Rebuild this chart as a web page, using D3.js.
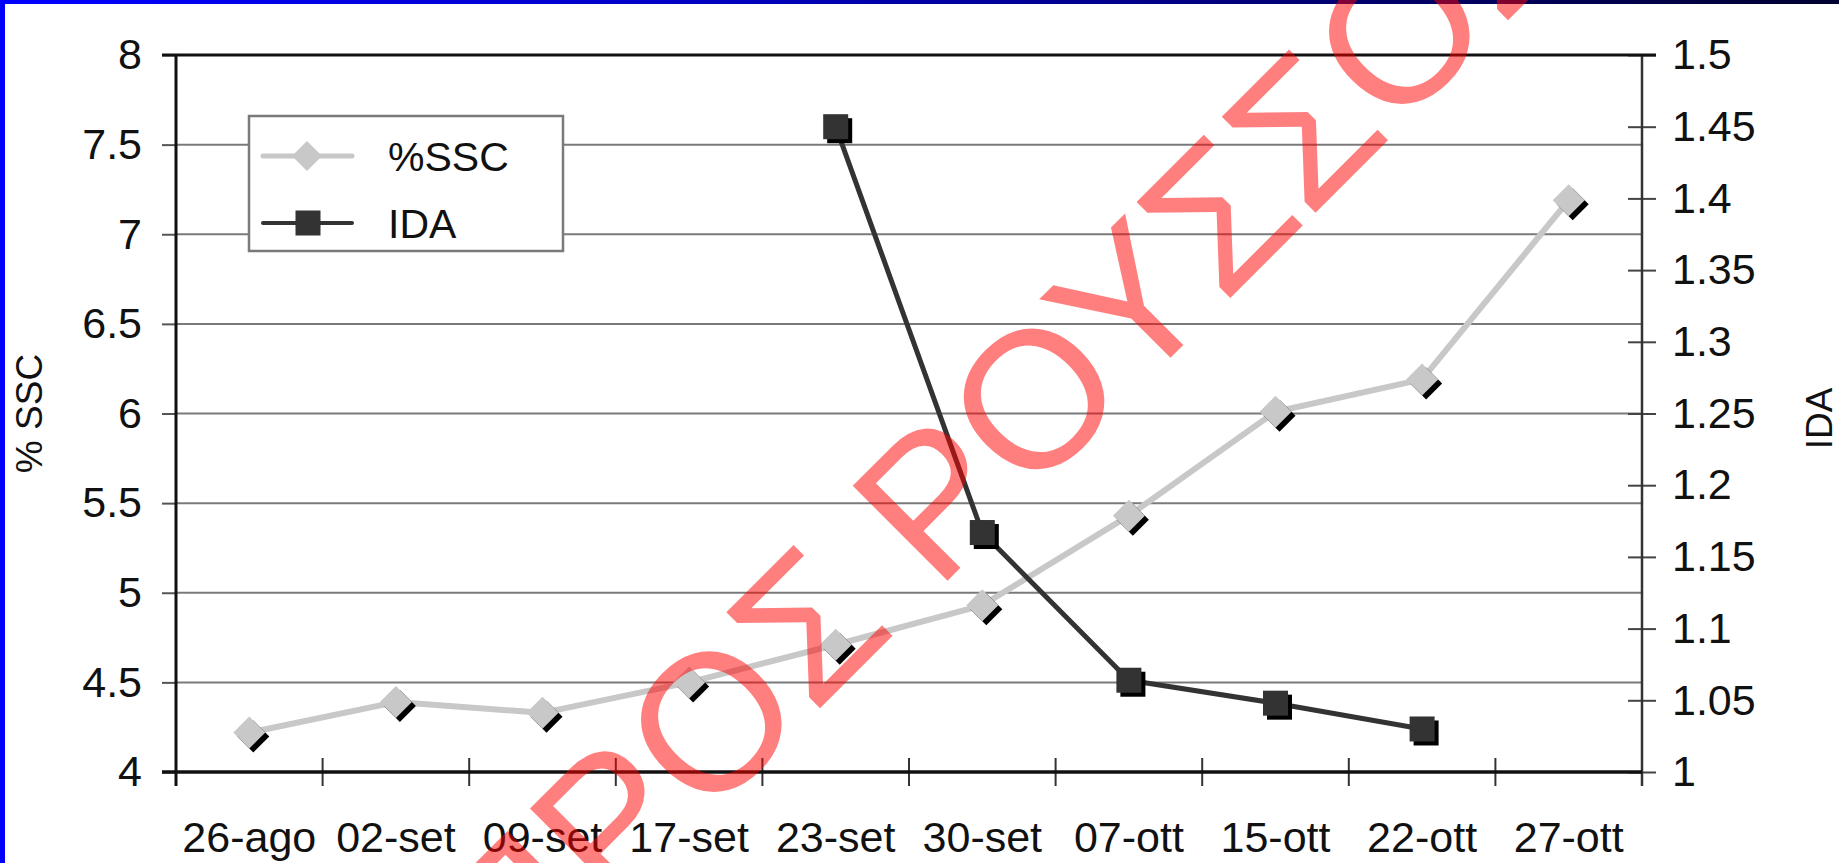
<!DOCTYPE html>
<html>
<head>
<meta charset="utf-8">
<script src="https://cdn.jsdelivr.net/npm/d3@7"></script>
<style>
  html, body { margin: 0; padding: 0; background: #ffffff; }
  svg { display: block; }
  text { font-family: "Liberation Sans", Arial, sans-serif; }
</style>
</head>
<body>
<svg id="chart" width="1839" height="863"></svg>
<script>
// ---- data ----
const categories = ["26-ago", "02-set", "09-set", "17-set", "23-set", "30-set", "07-ott", "15-ott", "22-ott", "27-ott"];
const sscValues = [4.22, 4.39, 4.33, 4.50, 4.71, 4.93, 5.43, 6.01, 6.19, 7.19];
const idaValues = [null, null, null, null, 1.45, 1.167, 1.064, 1.048, 1.030, null];
const leftTicks = [4, 4.5, 5, 5.5, 6, 6.5, 7, 7.5, 8];
const rightTicks = [1, 1.05, 1.1, 1.15, 1.2, 1.25, 1.3, 1.35, 1.4, 1.45, 1.5];
const seriesNames = ["%SSC", "IDA"];
const axisTitles = ["% SSC", "IDA"];
const watermarkText = "ΠΡΟΣ ΡΟΥΣΣΟΣ";

// ---- layout ----
const W = 1839, H = 863;
const plot = { left: 176, right: 1642, top: 55, bottom: 772 };
const FS = 43;

const svg = d3.select("#chart");
svg.append("rect").attr("width", W).attr("height", H).attr("fill", "#fff");

const x = d3.scaleBand().domain(categories).range([plot.left, plot.right]);
const yL = d3.scaleLinear().domain([4, 8]).range([plot.bottom, plot.top]);
const yR = d3.scaleLinear().domain([1, 1.5]).range([plot.bottom, plot.top]);

// gridlines
svg.append("g").selectAll("line")
  .data(leftTicks.filter(t => t > 4 && t < 8))
  .join("line")
  .attr("x1", plot.left).attr("x2", plot.right)
  .attr("y1", d => yL(d)).attr("y2", d => yL(d))
  .attr("stroke", "#7a7a7a").attr("stroke-width", 2);

// left axis
const gL = svg.append("g").attr("transform", `translate(${plot.left},0)`)
  .call(d3.axisLeft(yL).tickValues(leftTicks).tickSize(14).tickPadding(20).tickFormat(d => String(d)));
gL.select(".domain").remove();
gL.selectAll(".tick line").attr("stroke", "#555").attr("stroke-width", 2);
gL.selectAll(".tick text").attr("font-size", FS).attr("fill", "#111")
  .attr("font-family", "Liberation Sans, Arial, sans-serif");

// right axis
const gR = svg.append("g").attr("transform", `translate(${plot.right},0)`)
  .call(d3.axisRight(yR).tickValues(rightTicks).tickSize(14).tickPadding(16).tickFormat(d => String(+d.toFixed(2))));
gR.select(".domain").remove();
gR.selectAll(".tick line").attr("x1", -14).attr("stroke", "#444").attr("stroke-width", 2);
gR.selectAll(".tick text").attr("font-size", FS).attr("fill", "#111")
  .attr("font-family", "Liberation Sans, Arial, sans-serif");

// bottom axis labels
const gB = svg.append("g").attr("transform", `translate(0,${plot.bottom})`)
  .call(d3.axisBottom(x).tickSize(0).tickPadding(49));
gB.select(".domain").remove();
gB.selectAll(".tick text").attr("font-size", FS).attr("fill", "#111")
  .attr("font-family", "Liberation Sans, Arial, sans-serif");
// category boundary ticks
const bounds = categories.map(c => x(c)).concat([plot.right]);
svg.append("g").selectAll("line").data(bounds).join("line")
  .attr("x1", d => d).attr("x2", d => d)
  .attr("y1", plot.bottom - 14).attr("y2", plot.bottom + 14)
  .attr("stroke", "#333").attr("stroke-width", 2);

// axis lines / frame
svg.append("line").attr("x1", plot.right).attr("x2", plot.right).attr("y1", plot.top).attr("y2", plot.bottom + 14)
  .attr("stroke", "#333").attr("stroke-width", 2.5);
svg.append("line").attr("x1", plot.left - 14).attr("x2", plot.right + 14).attr("y1", plot.top).attr("y2", plot.top)
  .attr("stroke", "#111").attr("stroke-width", 3);
svg.append("line").attr("x1", plot.left).attr("x2", plot.left).attr("y1", plot.top).attr("y2", plot.bottom + 14)
  .attr("stroke", "#111").attr("stroke-width", 3);
svg.append("line").attr("x1", plot.left - 14).attr("x2", plot.right).attr("y1", plot.bottom).attr("y2", plot.bottom)
  .attr("stroke", "#111").attr("stroke-width", 3.5);

// axis titles
svg.append("text").attr("transform", `translate(42,${(plot.top + plot.bottom) / 2}) rotate(-90)`)
  .attr("text-anchor", "middle").attr("font-size", 37).attr("fill", "#111").text(axisTitles[0]);
svg.append("text").attr("transform", `translate(1832,${(plot.top + plot.bottom) / 2 + 5}) rotate(-90)`)
  .attr("text-anchor", "middle").attr("font-size", 37).attr("fill", "#111").text(axisTitles[1]);

// series
const cx = d => x(d) + x.bandwidth() / 2;
const sscData = categories.map((c, i) => ({ c, v: sscValues[i] }));
const idaData = categories.map((c, i) => ({ c, v: idaValues[i] })).filter(d => d.v != null);

const lineSSC = d3.line().x(d => cx(d.c)).y(d => yL(d.v));
const lineIDA = d3.line().x(d => cx(d.c)).y(d => yR(d.v));

const diamond = (r) => `M0,${-r}L${r},0L0,${r}L${-r},0Z`;
const DR = 16, SQ = 25, SH = 4;

svg.append("path").datum(sscData).attr("d", lineSSC)
  .attr("fill", "none").attr("stroke", "#c8c8c8").attr("stroke-width", 6).attr("stroke-linejoin", "round");
const gS = svg.append("g").selectAll("g").data(sscData).join("g")
  .attr("transform", d => `translate(${cx(d.c)},${yL(d.v)})`);
gS.append("path").attr("d", diamond(DR)).attr("transform", `translate(${SH},${SH})`).attr("fill", "#000");
gS.append("path").attr("d", diamond(DR)).attr("fill", "#c8c8c8");

svg.append("path").datum(idaData).attr("d", lineIDA)
  .attr("fill", "none").attr("stroke", "#333").attr("stroke-width", 5).attr("stroke-linejoin", "round");
const gI = svg.append("g").selectAll("g").data(idaData).join("g")
  .attr("transform", d => `translate(${cx(d.c)},${yR(d.v)})`);
gI.append("rect").attr("x", -SQ / 2 + SH).attr("y", -SQ / 2 + SH).attr("width", SQ).attr("height", SQ).attr("fill", "#000");
gI.append("rect").attr("x", -SQ / 2).attr("y", -SQ / 2).attr("width", SQ).attr("height", SQ).attr("fill", "#333");

// legend
const lg = svg.append("g");
lg.append("rect").attr("x", 249).attr("y", 116).attr("width", 314).attr("height", 135)
  .attr("fill", "#fff").attr("stroke", "#7a7a7a").attr("stroke-width", 2.5);
const legY = [156, 223];
lg.append("line").attr("x1", 263).attr("x2", 352).attr("y1", legY[0]).attr("y2", legY[0])
  .attr("stroke", "#c8c8c8").attr("stroke-width", 5).attr("stroke-linecap", "round");
lg.append("path").attr("d", diamond(15)).attr("transform", `translate(307,${legY[0]})`).attr("fill", "#c8c8c8");
lg.append("line").attr("x1", 263).attr("x2", 352).attr("y1", legY[1]).attr("y2", legY[1])
  .attr("stroke", "#333").attr("stroke-width", 4).attr("stroke-linecap", "round");
lg.append("rect").attr("x", 308 - 12.5).attr("y", legY[1] - 12.5).attr("width", 25).attr("height", 25).attr("fill", "#333");
lg.selectAll("text.lt").data(seriesNames).join("text").attr("class", "lt")
  .attr("x", 388).attr("y", (d, i) => legY[i] + 0.36 * 41)
  .attr("font-size", 41).attr("fill", "#111").text(d => d);

// page border (blue)
const defs = svg.append("defs");
const grad = defs.append("linearGradient").attr("id", "topbar").attr("x1", "0").attr("x2", "1").attr("y1", "0").attr("y2", "0");
grad.append("stop").attr("offset", "0").attr("stop-color", "#0000ff");
grad.append("stop").attr("offset", "0.35").attr("stop-color", "#0000c8");
grad.append("stop").attr("offset", "1").attr("stop-color", "#000030");
svg.append("rect").attr("x", 0).attr("y", 0).attr("width", W).attr("height", 4).attr("fill", "url(#topbar)");
svg.append("rect").attr("x", 0).attr("y", 0).attr("width", 5).attr("height", H).attr("fill", "#0000ff");

// watermark
const WFS = 195;
const wg = svg.append("g").attr("transform", "translate(1030,399) rotate(-45)");
const wt = wg.append("text").attr("font-size", WFS).attr("fill", "#ff0000").attr("fill-opacity", 0.5)
  .attr("x", 0).attr("y", 0.36 * WFS).text(watermarkText);
const node = wt.node();
const idx = 6;
const before = node.getSubStringLength(0, idx);
const ow = node.getSubStringLength(idx, 1);
wt.attr("x", -(before + ow / 2));
</script>
</body>
</html>
